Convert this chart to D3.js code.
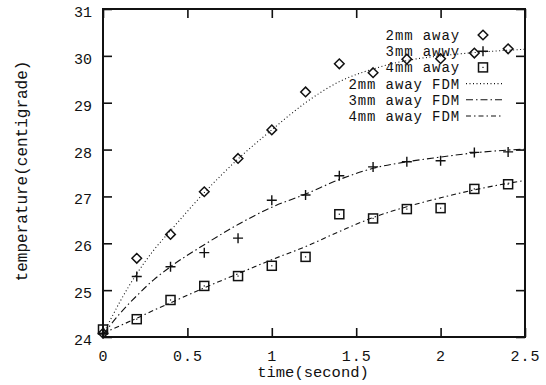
<!DOCTYPE html>
<html>
<head>
<meta charset="utf-8">
<script src="https://cdn.jsdelivr.net/npm/d3@7"></script>
<style>
  body { margin: 0; background: #fff; }
  text { font-family: "Liberation Mono", "DejaVu Sans Mono", monospace; fill: #111; }
</style>
</head>
<body>
<div class="chart"></div>
<script>
// measured points (time in s, temperature in centigrade)
var times = [0, 0.2, 0.4, 0.6, 0.8, 1.0, 1.2, 1.4, 1.6, 1.8, 2.0, 2.2, 2.4];
var away2 = [24.08, 25.68, 26.19, 27.10, 27.81, 28.42, 29.23, 29.83, 29.64, 29.93, 29.94, 30.06, 30.15];
var away3 = [24.08, 25.29, 25.50, 25.80, 26.11, 26.92, 27.03, 27.44, 27.63, 27.74, 27.76, 27.94, 27.95];
var away4 = [24.16, 24.38, 24.79, 25.09, 25.30, 25.52, 25.71, 26.62, 26.53, 26.73, 26.75, 27.16, 27.26];

// FDM curves
var fdmTimes = [0, 0.1, 0.2, 0.3, 0.4, 0.6, 0.8, 1.0, 1.2, 1.4, 1.6, 1.8, 2.0, 2.2, 2.4, 2.5];
var fdm2 = [24.05, 24.75, 25.35, 25.85, 26.27, 27.08, 27.80, 28.42, 29.00, 29.45, 29.72, 29.90, 30.00, 30.07, 30.12, 30.14];
var fdm3 = [24.05, 24.50, 24.88, 25.22, 25.50, 25.97, 26.40, 26.77, 27.05, 27.36, 27.60, 27.74, 27.84, 27.93, 27.99, 28.01];
var fdm4 = [24.08, 24.24, 24.40, 24.57, 24.73, 25.05, 25.35, 25.65, 25.93, 26.25, 26.55, 26.78, 26.97, 27.14, 27.28, 27.34];

var xTicks = [0, 0.5, 1, 1.5, 2, 2.5];
var yTicks = [24, 25, 26, 27, 28, 29, 30, 31];
var pointLabels = ["2mm away", "3mm awwy", "4mm away"];
var lineLabels = ["2mm away FDM", "3mm away FDM", "4mm away FDM"];

var svgWidth = 546;
var svgHeight = 385;
var plot = { left: 103, right: 525, top: 9, bottom: 337 };

var svg = d3.select(".chart")
  .append("svg")
  .attr("width", svgWidth)
  .attr("height", svgHeight);

var x = d3.scaleLinear().domain([0, 2.5]).range([plot.left, plot.right]);
var y = d3.scaleLinear().domain([24, 31]).range([plot.bottom, plot.top]);

// axes, ticks point inward
var bottomAxis = d3.axisBottom(x).tickValues(xTicks).tickSize(-9).tickPadding(13)
  .tickFormat(d3.format("~g"));
var topAxis = d3.axisTop(x).tickValues(xTicks).tickSize(-9).tickFormat("");
var leftAxis = d3.axisLeft(y).tickValues(yTicks).tickSize(-9).tickPadding(11)
  .tickFormat(d3.format("d"));
var rightAxis = d3.axisRight(y).tickValues(yTicks).tickSize(-9).tickFormat("");

function styleAxis(g) {
  g.select(".domain").remove();
  g.selectAll(".tick line").attr("stroke", "#111").attr("stroke-width", 1.6);
  g.selectAll("text").attr("font-size", "15px")
    .style("font-family", "'Liberation Mono', monospace").attr("fill", "#111");
}

svg.append("g").attr("transform", `translate(0,${plot.bottom})`).call(bottomAxis).call(styleAxis)
  .selectAll("text").style("letter-spacing", "1px");
svg.append("g").attr("transform", `translate(0,${plot.top})`).call(topAxis).call(styleAxis);
svg.append("g").attr("transform", `translate(${plot.left},0)`).call(leftAxis).call(styleAxis)
  .selectAll("text").attr("dy", "0.5em");
svg.append("g").attr("transform", `translate(${plot.right},0)`).call(rightAxis).call(styleAxis);

// frame
svg.append("rect")
  .attr("x", plot.left).attr("y", plot.top)
  .attr("width", plot.right - plot.left).attr("height", plot.bottom - plot.top)
  .attr("fill", "none").attr("stroke", "#111").attr("stroke-width", 2);

// FDM lines
var dashes = ["1,2.5", "7,3,1.5,3", "5,3,1.5,3"];
var fdmSeries = [fdm2, fdm3, fdm4];
var line = d3.line()
  .x((d, i) => x(fdmTimes[i]))
  .y(d => y(d))
  .curve(d3.curveMonotoneX);

fdmSeries.forEach(function(s, k) {
  svg.append("path")
    .datum(s)
    .attr("d", line)
    .attr("fill", "none")
    .attr("stroke", "#111")
    .attr("stroke-width", 1.1)
    .attr("stroke-dasharray", dashes[k]);
});

// markers
function drawMarker(g, kind, cx, cy) {
  if (kind === 0) {
    g.append("path")
      .attr("d", `M${cx},${cy - 4.8}L${cx + 4.8},${cy}L${cx},${cy + 4.8}L${cx - 4.8},${cy}Z`)
      .attr("fill", "none").attr("stroke", "#111").attr("stroke-width", 1.5);
  } else if (kind === 1) {
    g.append("path")
      .attr("d", `M${cx - 5},${cy}H${cx + 5}M${cx},${cy - 5}V${cy + 5}`)
      .attr("fill", "none").attr("stroke", "#111").attr("stroke-width", 1.4);
  } else {
    g.append("rect")
      .attr("x", cx - 4.5).attr("y", cy - 4.5).attr("width", 9).attr("height", 9)
      .attr("fill", "none").attr("stroke", "#111").attr("stroke-width", 1.5);
    g.append("rect")
      .attr("x", cx - 0.6).attr("y", cy - 0.6).attr("width", 1.2).attr("height", 1.2)
      .attr("fill", "#111");
  }
}

var pointSeries = [away2, away3, away4];
var markerGroup = svg.append("g");
pointSeries.forEach(function(s, k) {
  s.forEach(function(v, i) {
    drawMarker(markerGroup, k, x(times[i]), y(v));
  });
});

// legend
var legend = svg.append("g");
var legendRight = 460, rowStart = 35, rowStep = 16.2;
pointLabels.concat(lineLabels).forEach(function(lab, i) {
  var cy = rowStart + i * rowStep;
  legend.append("text")
    .attr("x", legendRight).attr("y", cy + 5)
    .attr("text-anchor", "end")
    .attr("font-size", "14px")
    .style("letter-spacing", "0.9px")
    .text(lab);
  if (i < 3) {
    drawMarker(legend, i, 483, cy);
  } else {
    legend.append("line")
      .attr("x1", 466).attr("x2", 502)
      .attr("y1", cy).attr("y2", cy)
      .attr("stroke", "#111").attr("stroke-width", 1.1)
      .attr("stroke-dasharray", dashes[i - 3]);
  }
});

// axis labels
svg.append("text")
  .attr("transform", "translate(27,171) rotate(-90)")
  .attr("text-anchor", "middle")
  .attr("font-size", "16px")
  .text("temperature(centigrade)");

svg.append("text")
  .attr("x", 313).attr("y", 377)
  .attr("text-anchor", "middle")
  .attr("font-size", "15.5px")
  .text("time(second)");
</script>
</body>
</html>
